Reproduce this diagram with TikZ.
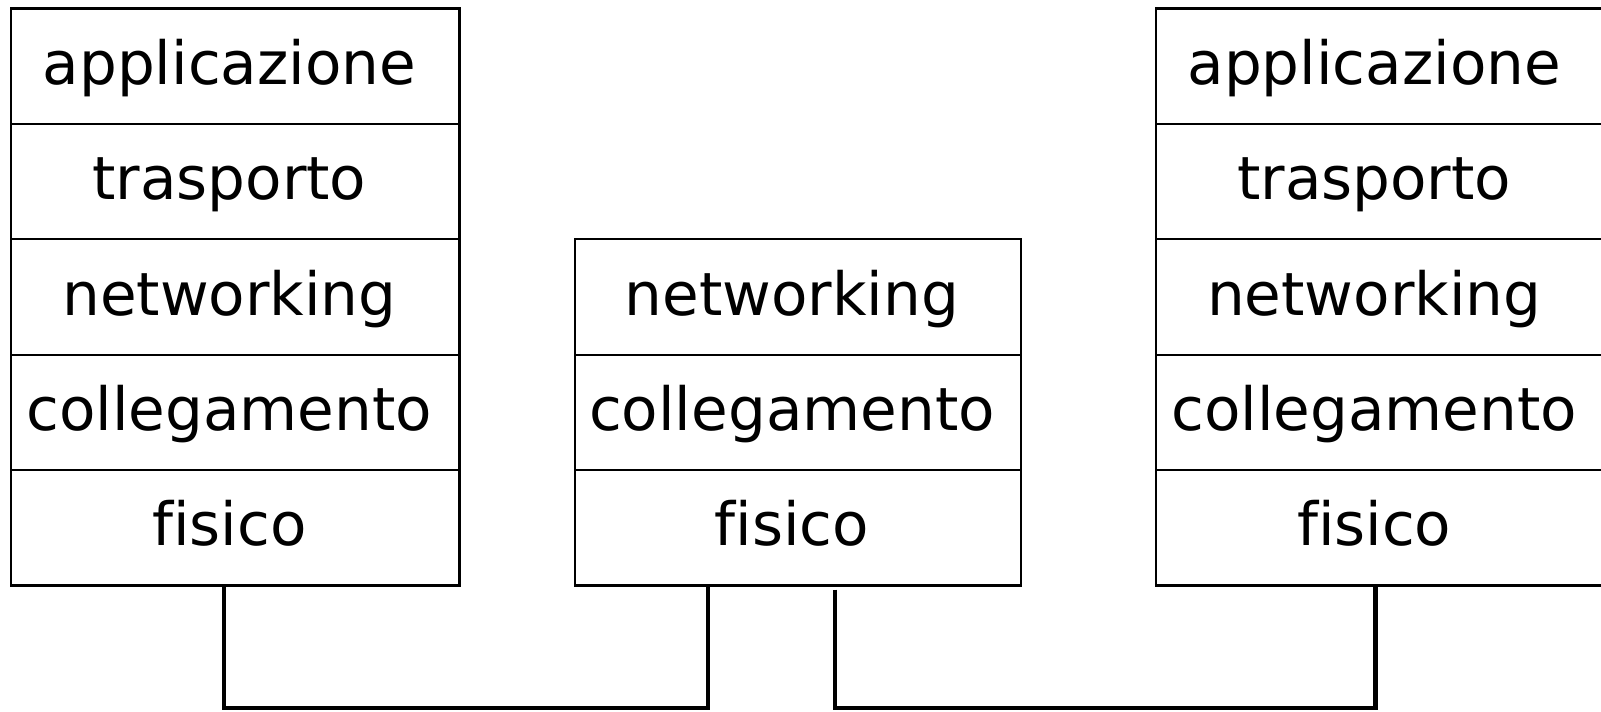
\documentclass[tikz,border=0pt]{standalone}
\usepackage{fontspec}
\setmainfont{DejaVu Sans}[Ligatures=CommonOff]
\begin{document}
\begin{tikzpicture}[x=1pt,y=1pt,
  layer/.style={draw=black, line width=2.2pt, inner sep=0pt, outer sep=0pt,
    minimum height=115.4pt, text height=45pt, text depth=9pt,
    font=\fontsize{59.6}{61}\selectfont, execute at end node=\kern12pt},
  wide/.style={layer, minimum width=448.3pt},
  mid/.style={layer, minimum width=446pt},
  wire/.style={draw=black, line width=4.2pt}]
\useasboundingbox (0,0) rectangle (1601,-712);
% left stack
\node[wide] (lA) at (235.35,-66.2) {applicazione};
\node[wide] (lT) at (235.35,-181.6) {trasporto};
\node[wide] (lN) at (235.35,-297.0) {networking};
\node[wide] (lC) at (235.35,-412.4) {collegamento};
\node[wide] (lF) at (235.35,-527.8) {fisico};
% middle stack
\node[mid] (mN) at (798,-297.0) {networking};
\node[mid] (mC) at (798,-412.4) {collegamento};
\node[mid] (mF) at (798,-527.8) {fisico};
% right stack
\node[wide] (rA) at (1380.2,-66.2) {applicazione};
\node[wide] (rT) at (1380.2,-181.6) {trasporto};
\node[wide] (rN) at (1380.2,-297.0) {networking};
\node[wide] (rC) at (1380.2,-412.4) {collegamento};
\node[wide] (rF) at (1380.2,-527.8) {fisico};
% connectors
\coordinate (b1) at (223.6,-707.6);
\coordinate (b2) at (835,-707.6);
\draw[wire] ([xshift=-11.75pt]lF.south) |- (b1) -| ([xshift=-90.4pt]mF.south);
\draw[wire] ([xshift=37pt,yshift=-4pt]mF.south) |- (b2) -| ([xshift=-4.8pt]rF.south);
\end{tikzpicture}
\end{document}
